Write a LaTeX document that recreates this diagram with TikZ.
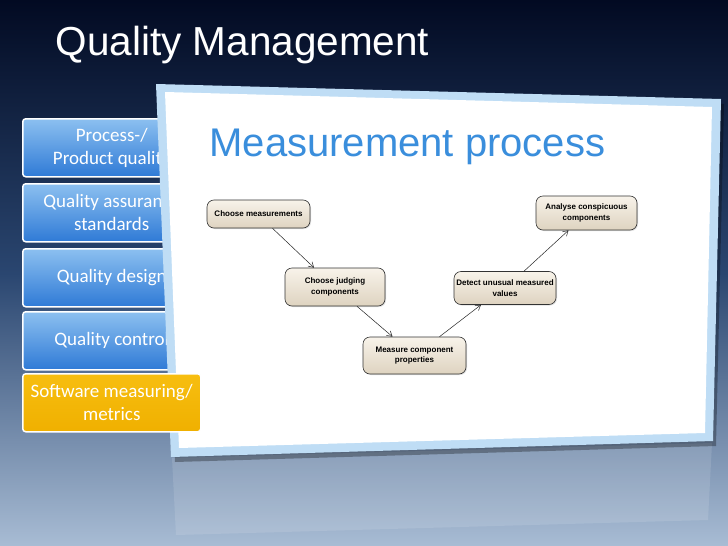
\documentclass[tikz,border=0pt]{standalone}
\usepackage{fontspec}
\setmainfont{Liberation Sans}
\newfontfamily\calib{Carlito}
\usetikzlibrary{arrows.meta,shadows,calc}
\definecolor{navy}{HTML}{020A22}
\definecolor{bgmid}{HTML}{2A4670}
\definecolor{bgbot}{HTML}{A8BCD4}
\definecolor{menutop}{HTML}{8CC0F0}
\definecolor{menubot}{HTML}{2F7AD6}
\definecolor{ytop}{HTML}{F7BE10}
\definecolor{ybot}{HTML}{F0B000}
\definecolor{ttlblue}{HTML}{3A8EDC}
\definecolor{beigetop}{HTML}{F8F3EA}
\definecolor{beigebot}{HTML}{DED3C0}
\definecolor{cardedge}{HTML}{BFDDF5}
\tikzset{
 menubox/.style={draw=white,line width=1.5pt,rounded corners=3pt,top color=menutop,bottom color=menubot,minimum width=178pt,minimum height=58pt,anchor=north west,text=white,font=\calib\fontsize{19}{23}\selectfont,align=center,inner sep=0pt},
 stepbox/.style={draw=black!80,line width=0.6pt,rounded corners=7pt,top color=beigetop,bottom color=beigebot,align=center,font=\bfseries\fontsize{8}{10.5}\selectfont,inner sep=1pt,drop shadow={opacity=0.25,shadow xshift=1pt,shadow yshift=-1pt}},
 flow/.style={-{Straight Barb[length=5pt,width=6pt]},line width=0.5pt,black!85}
}
\begin{document}
\begin{tikzpicture}[x=1pt,y=-1pt]
\shade[top color=navy,bottom color=bgbot,middle color=bgmid] (0,0) rectangle (728,546);
\useasboundingbox (0,0) rectangle (728,546);
\node[anchor=west,text=white,font=\fontsize{40.5}{46}\selectfont] (title) at (52,45) {Quality Management};
% menu
\node[menubox] (m1) at (22,118) {Process-/\\Product quality};
\node[menubox] (m2) at (22,183) {Quality assurance\\standards};
\node[menubox] (m3) at (22,248) {Quality design};
\node[menubox] (m4) at (22,311) {Quality  control};
% reflection
\fill[white,opacity=0.12] (172,458) -- (712,443) -- (708,520) -- (176,535) -- cycle;
% card
\fill[black,opacity=0.3] (160,89) -- (724,104) -- (716,446) -- (175,462) -- cycle;
\fill[cardedge] (156,84) -- (721,99) -- (713,441) -- (171,457) -- cycle;
\fill[white] (165,92) -- (712,107) -- (705,433) -- (179,448) -- cycle;
\node[menubox,top color=ytop,bottom color=ybot] (m5) at (22,373) {Software measuring/\\metrics};
\node[anchor=west,text=ttlblue,font=\fontsize{40}{46}\selectfont] (mp) at (206,147) {Measurement process};
% diagram
\node[stepbox,minimum width=103pt,minimum height=28pt] (a) at (258.5,214) {Choose measurements};
\node[stepbox,minimum width=100pt,minimum height=38pt] (b) at (335,287) {Choose judging\\components};
\node[stepbox,minimum width=103pt,minimum height=37pt] (c) at (414.5,355.5) {Measure component\\properties};
\node[stepbox,minimum width=102pt,minimum height=33pt] (d) at (505,288) {Detect unusual measured\\values};
\node[stepbox,minimum width=101pt,minimum height=34pt] (e) at (586.5,213) {Analyse conspicuous\\components};
\draw[flow] ($(a.south)+(14,0)$) -- ($(b.north)+(-21,0)$);
\draw[flow] ($(b.south)+(22,0)$) -- ($(c.north)+(-22,0)$);
\draw[flow] ($(c.north)+(25,0)$) -- ($(d.south)+(-24,0)$);
\draw[flow] ($(d.north)+(19,0)$) -- ($(e.south)+(-18,0)$);
\end{tikzpicture}
\end{document}
